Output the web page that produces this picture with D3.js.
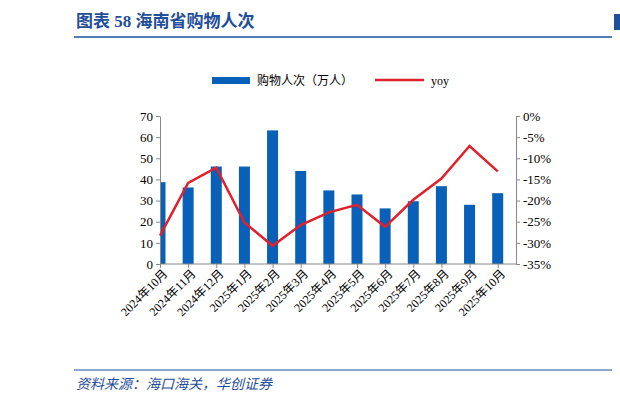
<!DOCTYPE html>
<html><head><meta charset="utf-8">
<script src="https://cdn.jsdelivr.net/npm/d3@7"></script>
<style>body{margin:0;background:#fff}</style>
</head><body>
<script>
var categories = ["2024年10月","2024年11月","2024年12月","2025年1月","2025年2月","2025年3月","2025年4月","2025年5月","2025年6月","2025年7月","2025年8月","2025年9月","2025年10月"];
var visitors = [38.7,36.2,46.1,46.1,63.2,44.0,34.8,32.9,26.3,29.7,36.8,28.0,33.5];
var yoy = [-28.3,-15.8,-12.2,-25.2,-30.7,-25.8,-22.8,-21.0,-26.2,-19.8,-14.8,-7.1,-13.1];
var leftTicks = [0,10,20,30,40,50,60,70];
var rightTicks = [0,-5,-10,-15,-20,-25,-30,-35];

var svg = d3.select("body").append("svg").attr("width",620).attr("height",403)
  .style("font-family","'Liberation Serif','Noto Sans CJK SC',serif");

// header
svg.append("text").attr("x",76).attr("y",27).attr("fill","#1f4e9a")
  .style("font-size","17px").style("font-weight","bold").text("图表 58   海南省购物人次");
svg.append("line").attr("x1",74).attr("x2",612).attr("y1",37).attr("y2",37)
  .attr("stroke","#1f4e9a").attr("stroke-width",1.5);
svg.append("rect").attr("x",614).attr("y",14).attr("width",6).attr("height",16).attr("fill","#1f4e9a");

var pLeft = 160, pRight = 516, pTop = 116, pBottom = 264;
var x = d3.scalePoint().domain(categories).range([pLeft, 497.7]);
var yL = d3.scaleLinear().domain([0,70]).range([pBottom, pTop]);
var yR = d3.scaleLinear().domain([-35,0]).range([pBottom, pTop]);

svg.append("clipPath").attr("id","c").append("rect")
  .attr("x",pLeft).attr("y",0).attr("width",pRight-pLeft).attr("height",pBottom);

svg.append("g").attr("clip-path","url(#c)").selectAll("rect").data(visitors).enter().append("rect")
  .attr("x",function(d,i){return x(categories[i])-5.5;})
  .attr("width",11)
  .attr("y",function(d){return yL(d);})
  .attr("height",function(d){return pBottom-yL(d);})
  .attr("fill","#0860b8");

var axL = svg.append("g").attr("transform","translate("+pLeft+",0)")
  .call(d3.axisLeft(yL).tickValues(leftTicks).tickSize(4).tickSizeOuter(0));
var axR = svg.append("g").attr("transform","translate("+pRight+",0)")
  .call(d3.axisRight(yR).tickValues(rightTicks).tickSize(4).tickSizeOuter(0).tickFormat(function(d){return d+"%";}));
var axB = svg.append("g").attr("transform","translate(0,"+pBottom+")")
  .call(d3.axisBottom(x).tickSize(4).tickSizeOuter(0));
axB.select(".domain").attr("d","M"+pLeft+",0H"+pRight);
[axL,axR,axB].forEach(function(a){
  a.selectAll("path,line").attr("stroke","#888");
  a.selectAll("text").attr("fill","#000").style("font-size","13px")
    .style("font-family","'Liberation Serif','Noto Sans CJK SC',serif");
});
axB.selectAll("text").attr("text-anchor","end").attr("dx","-2").attr("dy","6")
  .attr("transform","rotate(-45)").style("font-size","12px");

svg.append("path").datum(yoy)
  .attr("d",d3.line().x(function(d,i){return x(categories[i]);}).y(function(d){return yR(d);}))
  .attr("fill","none").attr("stroke","#e0202a").attr("stroke-width",2.5);

// legend
svg.append("rect").attr("x",212).attr("y",77).attr("width",38).attr("height",7).attr("fill","#0860b8");
svg.append("text").attr("x",257).attr("y",85).style("font-size","12px").text("购物人次（万人）");
svg.append("line").attr("x1",375).attr("x2",424).attr("y1",80).attr("y2",80).attr("stroke","#e0202a").attr("stroke-width",2.5);
svg.append("text").attr("x",431).attr("y",85).style("font-size","12px").text("yoy");

// footer
svg.append("line").attr("x1",74).attr("x2",612).attr("y1",370).attr("y2",370)
  .attr("stroke","#1f4e9a").attr("stroke-width",1);
svg.append("text").attr("x",76).attr("y",389).attr("fill","#1f4e9a").style("font-size","14px")
  .style("font-style","italic").text("资料来源：海口海关，华创证券");
</script>
</body></html>
